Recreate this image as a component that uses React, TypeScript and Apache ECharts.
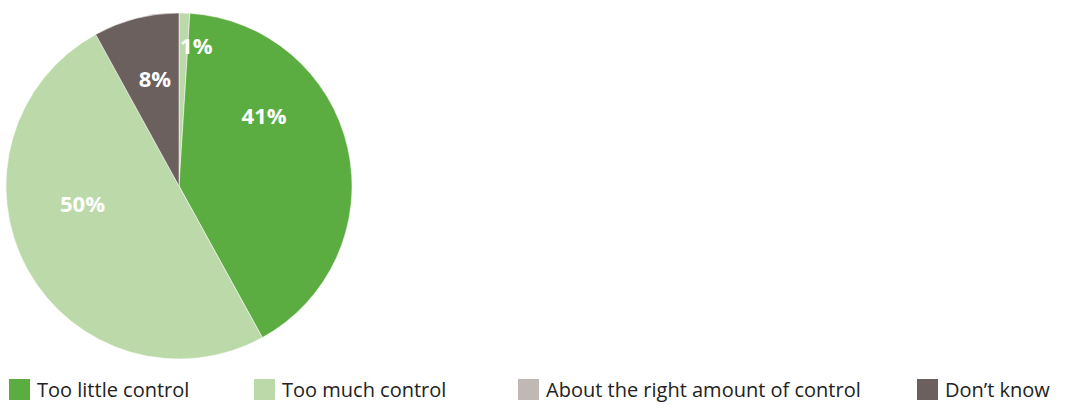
import React, { useEffect, useRef } from "react";
import * as echarts from "echarts";

const categories = ["Too little control", "Too much control", "About the right amount of control", "Don\u2019t know"];
const legendColors = ["#5cad41", "#bcdaa9", "#bfb8b5", "#6b605d"];
// pie order (clockwise from 12 o'clock)
const sliceNames = ["About the right amount of control", "Too little control", "Too much control", "Don\u2019t know"];
const sliceValues = [1, 41, 50, 8];
const sliceColors = ["#bcdaa9", "#5cad41", "#bcdaa9", "#6b605d"];
const labelAngles = [7, 50, 260, 347.5];
const labelRadii = [142, 111, 98, 111];
const legendLefts = [9, 254, 518, 917];

export default function App() {
  const ref = useRef<HTMLDivElement>(null);
  useEffect(() => {
    if (!ref.current) return;
    const chart = echarts.init(ref.current, undefined, { renderer: "svg" });
    const cx = 179, cy = 186, r = 173;
    chart.setOption({
      animation: false,
      legend: categories.map((c, i) => ({
        left: legendLefts[i],
        top: 379,
        padding: 0,
        itemWidth: 21,
        itemHeight: 21,
        icon: "rect",
        selectedMode: false,
        itemStyle: { borderWidth: 0 },
        data: [{ name: c, itemStyle: { color: legendColors[i], borderWidth: 0 } }],
        textStyle: { fontFamily: "Open Sans", fontSize: 20, color: "#222", padding: [0, 0, 0, 2] },
      })),
      series: [
        {
          type: "pie",
          center: [cx, cy],
          radius: r,
          startAngle: 90,
          clockwise: true,
          avoidLabelOverlap: false,
          data: sliceNames.map((n, i) => ({ name: n, value: sliceValues[i], itemStyle: { color: sliceColors[i] } })),
          itemStyle: { borderColor: "#ffffff", borderWidth: 0.5 },
          label: {
            show: true,
            position: "inside",
            formatter: "{c}%",
            color: "#ffffff",
            fontFamily: "Open Sans",
            fontWeight: "bold",
            fontSize: 22,
          },
          labelLine: { show: false },
          labelLayout: (p: any) => {
            const a = (labelAngles[p.dataIndex] * Math.PI) / 180;
            const rr = labelRadii[p.dataIndex];
            return { x: cx + rr * Math.sin(a), y: cy - rr * Math.cos(a), align: "center", verticalAlign: "middle" };
          },
          emphasis: { disabled: true },
        },
      ],
    });
    return () => chart.dispose();
  }, []);
  return <div ref={ref} style={{ position: "absolute", left: 0, top: 0, width: 1077, height: 416 }} />;
}
